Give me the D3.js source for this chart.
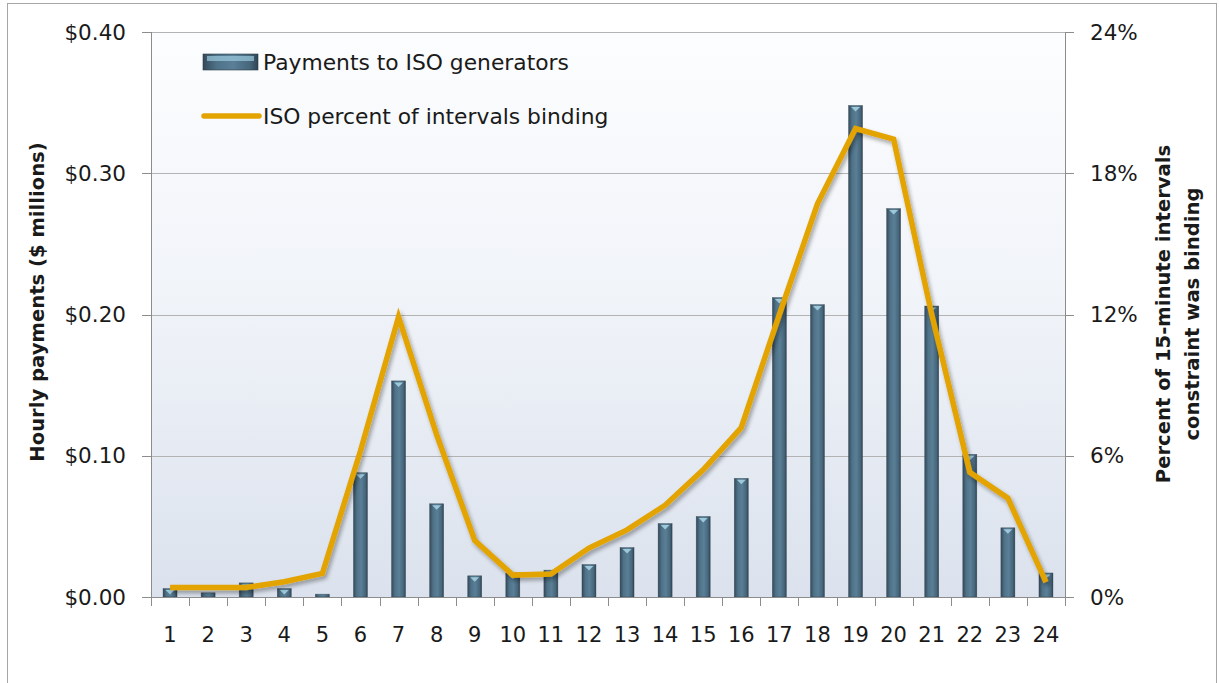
<!DOCTYPE html>
<html><head><meta charset="utf-8">
<script src="https://cdn.jsdelivr.net/npm/d3@7"></script>
<style>
html,body{margin:0;padding:0;background:#fff;}
svg text{font-family:"DejaVu Sans",sans-serif;fill:#1a1a1a;}
</style></head>
<body>
<svg id="c" width="1219" height="683"></svg>
<script>
const hours = ["1","2","3","4","5","6","7","8","9","10","11","12","13","14","15","16","17","18","19","20","21","22","23","24"];
const payments = [0.006,0.003,0.010,0.006,0.002,0.088,0.153,0.066,0.015,0.017,0.019,0.023,0.035,0.052,0.057,0.084,0.212,0.207,0.348,0.275,0.206,0.101,0.049,0.017];
const pctBinding = [0.40,0.40,0.40,0.65,1.0,6.2,11.9,6.9,2.4,0.93,0.98,2.08,2.85,3.9,5.4,7.2,12.0,16.7,19.9,19.45,12.0,5.3,4.2,0.63];
const leftTicks = [0,0.1,0.2,0.3,0.4];
const rightTicks = [0,6,12,18,24];
const seriesNames = ["Payments to ISO generators","ISO percent of intervals binding"];
const leftTitle = "Hourly payments ($ millions)";
const rightTitle = ["Percent of 15-minute intervals","constraint was binding"];

const svg = d3.select("#c");
const L = 151, R = 1065, T = 32, B = 597;

const defs = svg.append("defs");
const bg = defs.append("linearGradient").attr("id","bg").attr("x1",0).attr("y1",0).attr("x2",0).attr("y2",1);
bg.append("stop").attr("offset","0%").attr("stop-color","#fcfdfe");
bg.append("stop").attr("offset","45%").attr("stop-color","#f1f4f9");
bg.append("stop").attr("offset","100%").attr("stop-color","#dbe2ed");
const bgr = defs.append("linearGradient").attr("id","bar").attr("x1",0).attr("y1",0).attr("x2",1).attr("y2",0);
bgr.append("stop").attr("offset","0%").attr("stop-color","#34495a");
bgr.append("stop").attr("offset","25%").attr("stop-color","#4f7288");
bgr.append("stop").attr("offset","55%").attr("stop-color","#5a7f96");
bgr.append("stop").attr("offset","85%").attr("stop-color","#46667b");
bgr.append("stop").attr("offset","100%").attr("stop-color","#2f4352");
const sh = defs.append("filter").attr("id","sh").attr("x","-10%").attr("y","-10%").attr("width","120%").attr("height","130%");
sh.append("feGaussianBlur").attr("in","SourceAlpha").attr("stdDeviation",2.2).attr("result","b");
sh.append("feOffset").attr("in","b").attr("dx",2).attr("dy",3).attr("result","o");
sh.append("feComponentTransfer").attr("in","o").attr("result","o2").append("feFuncA").attr("type","linear").attr("slope",0.35);
const mg = sh.append("feMerge");
mg.append("feMergeNode").attr("in","o2");
mg.append("feMergeNode").attr("in","SourceGraphic");

// outer frame
svg.append("rect").attr("x",7.5).attr("y",3.5).attr("width",1209).attr("height",700)
  .attr("fill","#fff").attr("stroke","#a6a6a6").attr("stroke-width",1);

const x = d3.scaleBand().domain(hours).range([L,R]).paddingInner(0).paddingOuter(0);
const yL = d3.scaleLinear().domain([0,0.4]).range([B,T]);
const yR = d3.scaleLinear().domain([0,24]).range([B,T]);

svg.append("rect").attr("x",L).attr("y",T).attr("width",R-L).attr("height",B-T).attr("fill","url(#bg)");

// gridlines
svg.append("g").selectAll("line").data(leftTicks.filter(d=>d>0)).join("line")
  .attr("x1",L).attr("x2",R).attr("y1",d=>Math.round(yL(d))+0.5).attr("y2",d=>Math.round(yL(d))+0.5)
  .attr("stroke","#b3b3b3").attr("stroke-width",1);

// bars
const bw = 14;
const bars = svg.append("g");
bars.selectAll("rect").data(payments).join("rect")
  .attr("x",(d,i)=>x(hours[i])+x.bandwidth()/2-bw/2)
  .attr("y",d=>yL(d))
  .attr("width",bw)
  .attr("height",d=>B-yL(d))
  .attr("fill","url(#bar)")
  .attr("stroke","#2b3c48").attr("stroke-width",0.6).attr("stroke-opacity",0.6);
bars.selectAll("path").data(payments).join("path")
  .attr("d",(d,i)=>{const cx=x(hours[i])+x.bandwidth()/2, ty=yL(d);
     if (B-ty<8) return "";
     return `M${cx-4.5},${ty+1.5}L${cx+4.5},${ty+1.5}L${cx},${ty+6}Z`;})
  .attr("fill","#a9d6e6").attr("opacity",0.85);

// line
const line = d3.line().x((d,i)=>x(hours[i])+x.bandwidth()/2).y(d=>yR(d));
svg.append("path").datum(pctBinding).attr("d",line).attr("fill","none")
  .attr("stroke","#e3a300").attr("stroke-width",5.5).attr("stroke-linejoin","miter").attr("filter","url(#sh)");

// axes
const ax = svg.append("g").attr("stroke","#8c8c8c").attr("stroke-width",1);
ax.append("line").attr("x1",L+0.5).attr("x2",L+0.5).attr("y1",T).attr("y2",B+1);
ax.append("line").attr("x1",R+0.5).attr("x2",R+0.5).attr("y1",T).attr("y2",B+1);
ax.append("line").attr("x1",L).attr("x2",R+1).attr("y1",B+0.5).attr("y2",B+0.5);
ax.selectAll(".lt").data(leftTicks).join("line").attr("class","lt")
  .attr("x1",L-9).attr("x2",L).attr("y1",d=>Math.round(yL(d))+0.5).attr("y2",d=>Math.round(yL(d))+0.5);
ax.selectAll(".rt").data(rightTicks).join("line").attr("class","rt")
  .attr("x1",R).attr("x2",R+9).attr("y1",d=>Math.round(yR(d))+0.5).attr("y2",d=>Math.round(yR(d))+0.5);
const bounds = hours.map(h=>x(h)).concat([R]);
ax.selectAll(".bt").data(bounds).join("line").attr("class","bt")
  .attr("x1",d=>Math.round(d)+0.5).attr("x2",d=>Math.round(d)+0.5).attr("y1",B).attr("y2",B+9);

// tick labels
svg.append("g").selectAll("text").data(leftTicks).join("text")
  .attr("x",126).attr("y",d=>yL(d)).attr("dy","0.36em").attr("text-anchor","end")
  .attr("font-size",21.5).text(d=>"$"+d.toFixed(2));
svg.append("g").selectAll("text").data(rightTicks).join("text")
  .attr("x",1090).attr("y",d=>yR(d)).attr("dy","0.36em").attr("text-anchor","start")
  .attr("font-size",21.5).text(d=>d+"%");
svg.append("g").selectAll("text").data(hours).join("text")
  .attr("x",d=>x(d)+x.bandwidth()/2).attr("y",634).attr("dy","0.36em").attr("text-anchor","middle")
  .attr("font-size",21).text(d=>d);

// axis titles
svg.append("text").attr("transform","translate(37,302) rotate(-90)").attr("text-anchor","middle").attr("dy","0.36em")
  .attr("font-size",19.6).attr("font-weight","bold").text(leftTitle);
svg.append("g").selectAll("text").data(rightTitle).join("text")
  .attr("transform",(d,i)=>`translate(${1163+i*29},314) rotate(-90)`).attr("text-anchor","middle").attr("dy","0.36em")
  .attr("font-size",19.6).attr("font-weight","bold").text(d=>d);

// legend
const lg = svg.append("g");
lg.append("rect").attr("x",203).attr("y",54).attr("width",55).attr("height",16).attr("fill","url(#bar)")
  .attr("stroke","#2b3c48").attr("stroke-width",0.6);
lg.append("rect").attr("x",207).attr("y",56).attr("width",47).attr("height",5).attr("fill","#9ccbe0").attr("opacity",0.7);
lg.append("text").attr("x",263).attr("y",62).attr("dy","0.36em").attr("font-size",21.8).text(seriesNames[0]);
lg.append("line").attr("x1",204).attr("x2",259).attr("y1",116).attr("y2",116)
  .attr("stroke","#e3a300").attr("stroke-width",5.5).attr("stroke-linecap","round");
lg.append("text").attr("x",263).attr("y",116).attr("dy","0.36em").attr("font-size",21.8).text(seriesNames[1]);
</script>
</body></html>
